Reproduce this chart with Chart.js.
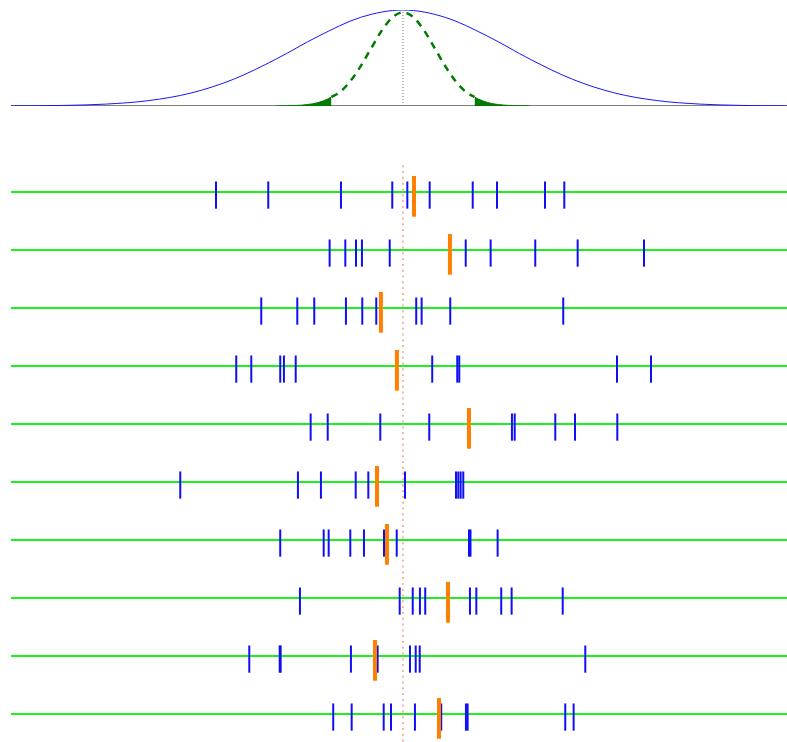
<!DOCTYPE html>
<html>
<head>
<meta charset="utf-8">
<script src="https://cdn.jsdelivr.net/npm/chart.js@4"></script>
<style>
  html, body { margin: 0; padding: 0; background: #fff; overflow: hidden; }
  #wrap { position: relative; width: 787px; height: 742px; }
  #top-chart { position: absolute; left: 0; top: 0; }
  #rows-chart { position: absolute; left: 0; top: 163px; }
</style>
</head>
<body>
<div id="wrap">
  <canvas id="top-chart" width="787" height="120"></canvas>
  <canvas id="rows-chart" width="787" height="580"></canvas>
</div>
<script>
// ═══════════════════════════════════════
// DATA  (x in units of the population SD, mean at 0)
// ═══════════════════════════════════════
const xMin = -3.698, xMax = 3.623;

// population density (peak = 1)
const popX = [-3.7, -3.2, -2.8, -2.4, -2.0, -1.6, -1.2, -0.8, -0.4, 0, 0.4, 0.8, 1.2, 1.6, 2.0, 2.4, 2.8, 3.2, 3.62];
const popY = [0.001, 0.006, 0.020, 0.056, 0.135, 0.278, 0.487, 0.726, 0.923, 1, 0.923, 0.726, 0.487, 0.278, 0.135, 0.056, 0.020, 0.006, 0.001];

// sampling distribution of the mean (dashed middle part)
const meanX = [-0.675, -0.6, -0.5, -0.4, -0.3, -0.2, -0.1, 0, 0.1, 0.2, 0.3, 0.4, 0.5, 0.6, 0.675];
const meanY = [0.095, 0.141, 0.254, 0.413, 0.601, 0.786, 0.924, 0.975, 0.924, 0.786, 0.601, 0.413, 0.254, 0.141, 0.095];

// shaded tails
const leftTailX  = [-1.2, -1.1, -1.0, -0.9, -0.8, -0.7, -0.675];
const leftTailY  = [0.001, 0.002, 0.006, 0.015, 0.036, 0.078, 0.095];
const rightTailX = [0.675, 0.7, 0.8, 0.9, 1.0, 1.1, 1.2];
const rightTailY = [0.095, 0.078, 0.036, 0.015, 0.006, 0.002, 0.001];

// ten samples of ten values each
const samples = [
  [-1.764, -1.271, -0.585, -0.101, 0.041, 0.252, 0.658, 0.887, 1.340, 1.522],
  [-0.692, -0.544, -0.443, -0.387, -0.125, 0.592, 0.827, 1.248, 1.648, 2.274],
  [-1.337, -0.997, -0.837, -0.538, -0.384, -0.252, 0.125, 0.176, 0.446, 1.512],
  [-1.573, -1.431, -1.158, -1.123, -1.012, 0.276, 0.512, 0.531, 2.019, 2.340],
  [-0.871, -0.710, -0.214, 0.248, 0.613, 1.028, 1.054, 1.437, 1.623, 2.022],
  [-2.101, -0.991, -0.774, -0.446, -0.327, 0.019, 0.500, 0.522, 0.544, 0.569],
  [-1.158, -0.748, -0.701, -0.497, -0.368, -0.179, -0.059, 0.623, 0.637, 0.893],
  [-0.972, -0.031, 0.092, 0.160, 0.210, 0.632, 0.692, 0.927, 1.025, 1.507],
  [-1.450, -1.163, -1.154, -0.491, -0.264, -0.239, 0.066, 0.120, 0.158, 1.720],
  [-0.658, -0.484, -0.182, -0.113, 0.113, 0.361, 0.594, 0.610, 1.531, 1.610],
];
// sample means (orange marks)
const sampleMeans = [0.104, 0.443, -0.208, -0.057, 0.623, -0.245, -0.151, 0.425, -0.264, 0.340];

// ═══════════════════════════════════════
// HELPERS
// ═══════════════════════════════════════
const pts = (xs, ys) => xs.map((x, i) => ({ x, y: ys[i] }));
const noAxes = {
  x: { type: 'linear', min: xMin, max: xMax, display: false },
};
const baseOpts = {
  responsive: false,
  animation: false,
  events: [],
  plugins: { legend: { display: false }, tooltip: { enabled: false } },
};

// ═══════════════════════════════════════
// TOP: DENSITY CURVES
// ═══════════════════════════════════════
new Chart(document.getElementById('top-chart'), {
  type: 'line',
  data: {
    datasets: [
      { data: pts(popX, popY), borderColor: 'rgb(20,20,255)', borderWidth: 1,
        cubicInterpolationMode: 'monotone', pointRadius: 0, order: 0 },
      { data: pts(meanX, meanY), borderColor: '#007a00', borderWidth: 2.5, borderDash: [7, 6],
        cubicInterpolationMode: 'monotone', pointRadius: 0, order: 1 },
      { data: pts(leftTailX, leftTailY), borderColor: '#007a00', backgroundColor: '#007a00',
        borderWidth: 1, fill: 'origin', cubicInterpolationMode: 'monotone', pointRadius: 0, order: 2 },
      { data: pts(rightTailX, rightTailY), borderColor: '#007a00', backgroundColor: '#007a00',
        borderWidth: 1, fill: 'origin', cubicInterpolationMode: 'monotone', pointRadius: 0, order: 2 },
      { data: [{ x: 0, y: 0 }, { x: 0, y: 0.98 }], borderColor: '#777', borderWidth: 1,
        borderDash: [1, 2], pointRadius: 0, order: 3 },
      { data: [{ x: xMin, y: 0 }, { x: xMax, y: 0 }], borderColor: '#555', borderWidth: 1.5,
        pointRadius: 0, order: 4 },
    ],
  },
  options: {
    ...baseOpts,
    layout: { autoPadding: false, padding: { left: 11, right: 0, top: 10, bottom: 14 } },
    scales: { ...noAxes, y: { min: 0, max: 1, display: false } },
  },
});

// ═══════════════════════════════════════
// BOTTOM: SAMPLE ROWS
// ═══════════════════════════════════════
const rowLines = samples.map((_, r) => ({
  data: [{ x: xMin, y: r }, { x: xMax, y: r }],
  borderColor: 'rgb(30,240,30)', borderWidth: 1.8, pointRadius: 0, order: 4,
}));

const blueTicks = {
  data: samples.flatMap((row, r) => row.map(v => ({ x: v, y: r + 0.053 }))),
  showLine: false, pointStyle: 'line', pointRotation: 90, pointRadius: 13.6,
  pointBorderWidth: 2, pointBorderColor: 'rgb(15,15,245)', order: 1,
};

const meanTicks = {
  data: sampleMeans.map((v, r) => ({ x: v, y: r + 0.075 })),
  showLine: false, pointStyle: 'line', pointRotation: 90, pointRadius: 20.35,
  pointBorderWidth: 4, pointBorderColor: 'rgb(255,128,0)', order: 0,
};

// dotted reference line at the population mean
const centreLine = {
  data: [{ x: 0, y: -0.46 }, { x: 0, y: 9.5 }],
  borderColor: 'rgba(232,85,45,0.85)', borderWidth: 1, borderDash: [2, 3.8],
  pointRadius: 0, order: 3,
};

new Chart(document.getElementById('rows-chart'), {
  type: 'line',
  data: { datasets: [...rowLines, centreLine, blueTicks, meanTicks] },
  options: {
    ...baseOpts,
    layout: { autoPadding: false, padding: { left: 11, right: 0, top: 0, bottom: 0 } },
    scales: { ...noAxes, y: { min: -0.5, max: 9.5, reverse: true, display: false } },
  },
});
</script>
</body>
</html>
